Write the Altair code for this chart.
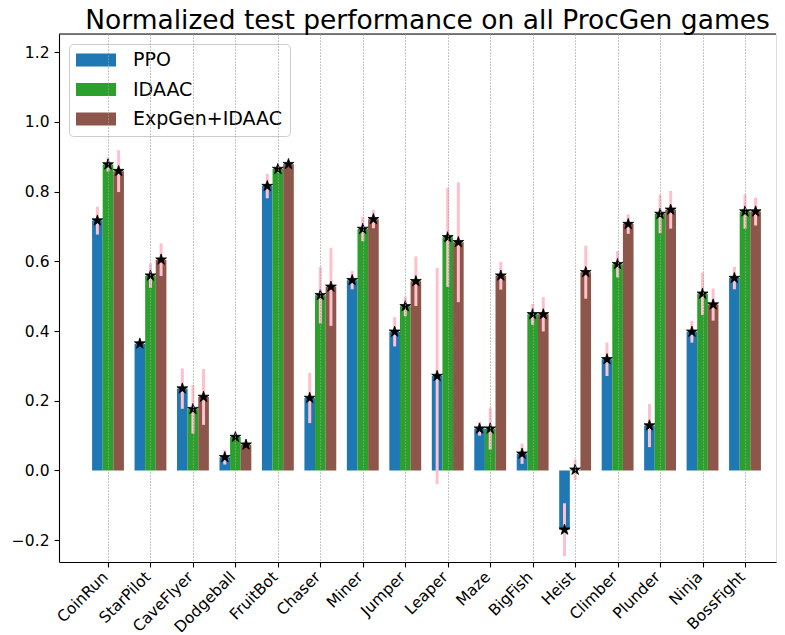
import altair as alt
import pandas as pd

games = ["CoinRun", "StarPilot", "CaveFlyer", "Dodgeball", "FruitBot", "Chaser",
         "Miner", "Jumper", "Leaper", "Maze", "BigFish", "Heist", "Climber",
         "Plunder", "Ninja", "BossFight"]
methods = ["PPO", "IDAAC", "ExpGen+IDAAC"]
colors = ["#1f77b4", "#2ca02c", "#8c564b"]

ppo_mean = [0.717, 0.364, 0.235, 0.038, 0.816, 0.208, 0.546, 0.398, 0.271, 0.120,
            0.048, -0.170, 0.319, 0.129, 0.398, 0.552]
ppo_err = [0.040, 0.006, 0.058, 0.021, 0.035, 0.072, 0.026, 0.042, 0.310, 0.020,
           0.029, 0.076, 0.048, 0.062, 0.031, 0.032]

idaac_mean = [0.878, 0.559, 0.176, 0.096, 0.865, 0.503, 0.693, 0.471, 0.669, 0.120,
              0.448, 0.002, 0.592, 0.736, 0.507, 0.743]
idaac_err = [0.020, 0.035, 0.070, 0.006, 0.010, 0.081, 0.035, 0.028, 0.142, 0.060,
             0.030, 0.030, 0.038, 0.055, 0.061, 0.049]

expgen_mean = [0.859, 0.605, 0.211, 0.074, 0.879, 0.527, 0.721, 0.543, 0.655, 0.559,
               0.448, 0.569, 0.707, 0.748, 0.476, 0.743]
expgen_err = [0.060, 0.047, 0.080, 0.005, 0.008, 0.112, 0.026, 0.071, 0.172, 0.040,
              0.049, 0.076, 0.028, 0.054, 0.046, 0.040]

y_ticks = [-0.2, 0.0, 0.2, 0.4, 0.6, 0.8, 1.0, 1.2]

offsets = [-0.25, 0.0, 0.25]
bar_w = 0.25

rows = []
for mi, (name, means, errs) in enumerate(zip(methods, [ppo_mean, idaac_mean, expgen_mean],
                                              [ppo_err, idaac_err, expgen_err])):
    for gi, g in enumerate(games):
        pos = gi + offsets[mi]
        rows.append(dict(game=g, method=name, pos=pos, left=pos - bar_w / 2,
                         right=pos + bar_w / 2, mean=means[gi],
                         lo=means[gi] - errs[gi], hi=means[gi] + errs[gi], zero=0.0))
df = pd.DataFrame(rows)

W, H = 717, 528
xscale = alt.Scale(domain=[-1.154, 15.73], nice=False, zero=False)
yscale = alt.Scale(domain=[-0.2626, 1.2525], nice=False, zero=False)

label_expr = "[" + ",".join(f"'{g}'" for g in games) + "][datum.value]"

x_axis = alt.Axis(values=list(range(len(games))), labelExpr=label_expr, title=None,
                  grid=True, gridDash=[1.2, 1.8], gridColor="#a0a0a0", gridWidth=1,
                  zindex=1, labelAngle=-45, labelAlign="right", labelBaseline="top",
                  labelOffset=-8, labelPadding=2, tickSize=5, labelFontSize=15.5,
                  labelOverlap=False, labelBound=False, labelFlush=False)
y_axis = alt.Axis(values=y_ticks, format=".1f", grid=False, title=None, tickSize=5,
                  labelFontSize=15.5, labelPadding=5)

star = ("M0,-1L0.2245,-0.309L0.951,-0.309L0.363,0.118L0.588,0.809L0,0.382"
        "L-0.588,0.809L-0.363,0.118L-0.951,-0.309L-0.2245,-0.309Z")

bars = alt.Chart(df).mark_bar().encode(
    x=alt.X("left:Q", scale=xscale, axis=x_axis, title=None),
    x2="right:Q",
    y=alt.Y("mean:Q", scale=yscale, axis=y_axis, title=None),
    y2="zero:Q",
    color=alt.Color("method:N", scale=alt.Scale(domain=methods, range=colors),
                    legend=alt.Legend(orient="none", legendX=10, legendY=10, title=None,
                                      direction="vertical",
                                      symbolType="M-1,-0.33H1V0.33H-1Z", symbolSize=1600,
                                      symbolStrokeWidth=0, labelFontSize=19,
                                      labelOffset=17, rowPadding=10.5, padding=7,
                                      clipHeight=18,
                                      fillColor="rgba(255,255,255,0.8)",
                                      strokeColor="#cccccc", cornerRadius=4,
                                      labelColor="black")),
)

errs = alt.Chart(df).mark_rule(color="#ffc0cb", strokeWidth=3).encode(
    x=alt.X("pos:Q", scale=xscale, title=None),
    y=alt.Y("lo:Q", scale=yscale, title=None),
    y2="hi:Q",
)

stars = alt.Chart(df).mark_point(shape=star, filled=True, color="black", size=130,
                                  opacity=1, stroke="black", strokeWidth=0.8).encode(
    x=alt.X("pos:Q", scale=xscale, title=None),
    y=alt.Y("mean:Q", scale=yscale, title=None),
)

top = alt.Chart(pd.DataFrame({"a": [0]})).mark_rule(color="black", strokeWidth=1.1).encode(
    x=alt.value(0), x2=alt.value(W), y=alt.value(0)
)

chart = alt.layer(bars, errs, stars, top).properties(
    width=W, height=H,
    title=alt.TitleParams("Normalized test performance on all ProcGen games",
                          fontSize=26.5, fontWeight="normal", font="DejaVu Sans",
                          anchor="middle", dx=10, dy=30, offset=8, baseline="alphabetic",
                          color="black"),
    autosize=alt.AutoSizeParams(type="none"),
    padding={"left": 51, "top": 26, "right": 1, "bottom": 70},
).configure_view(stroke=None).configure(font="DejaVu Sans").configure_axis(
    domainColor="black", domainWidth=1.1, tickColor="black", tickWidth=1.1,
    labelColor="black", labelFont="DejaVu Sans"
).configure_legend(labelFont="DejaVu Sans")

chart.save("out.html", embed_options={"renderer": "svg", "actions": False})
